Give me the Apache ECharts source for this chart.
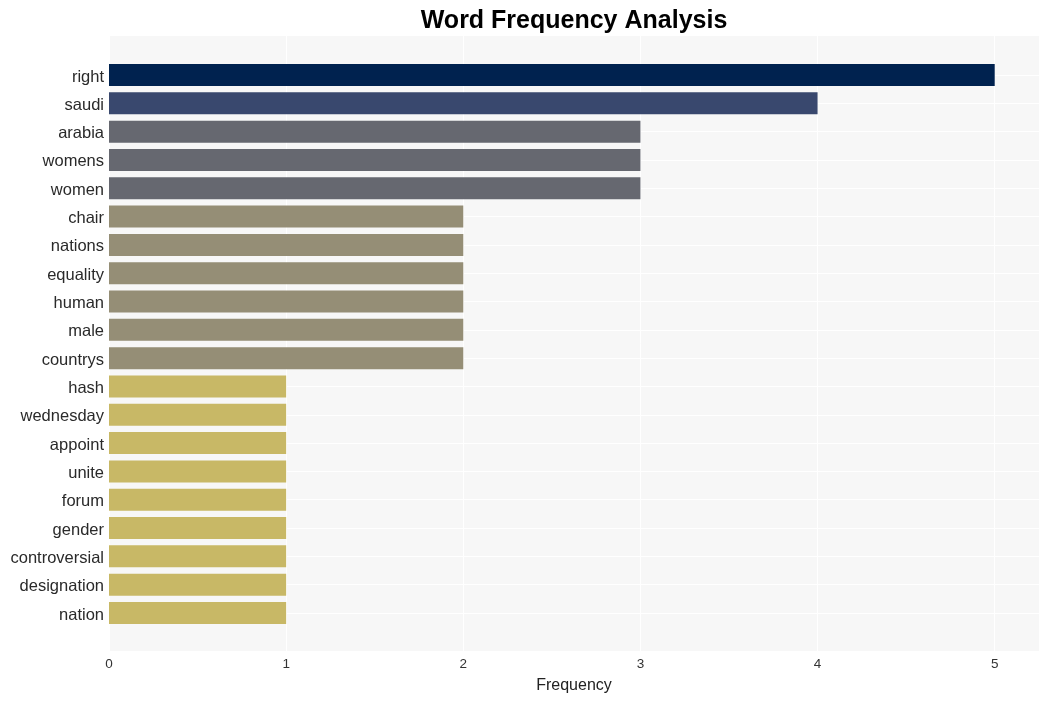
<!DOCTYPE html>
<html><head><meta charset="utf-8">
<script src="https://cdn.jsdelivr.net/npm/echarts@6/dist/echarts.min.js"></script>
<style>html,body{margin:0;padding:0;background:#fff}#c{width:1049px;height:701px}</style>
</head><body><div id="c"></div>
<script>
const words = ["right","saudi","arabia","womens","women","chair","nations","equality","human","male","countrys","hash","wednesday","appoint","unite","forum","gender","controversial","designation","nation"];
const counts = [5,4,3,3,3,2,2,2,2,2,2,1,1,1,1,1,1,1,1,1];
const xTicks = [0,1,2,3,4,5];
const colorByCount = {5:"#00224f",4:"#39486e",3:"#666870",2:"#958e76",1:"#c8b866"};
const FONT = "Liberation Sans, Arial, sans-serif";

const chart = echarts.init(document.getElementById('c'), null, {renderer:'canvas'});
chart.setOption({
  animation:false,
  title:{text:"Word Frequency Analysis",left:569,top:4,textAlign:'center',
    textStyle:{fontFamily:FONT,fontWeight:'bold',fontSize:25,color:'#000'}},
  grid:[
    {left:109,right:10,top:36,bottom:50,show:true,backgroundColor:'#f7f7f7',borderWidth:0},
    {left:109,right:10,top:75,bottom:88,show:false}
  ],
  xAxis:[
    {gridIndex:0,type:'value',min:0,max:5.25,interval:1,
     axisLine:{show:false},axisTick:{show:false},
     axisLabel:{fontFamily:FONT,fontSize:13.5,color:'#333',margin:6,showMaxLabel:false,
       formatter:v=>xTicks.includes(v)?String(v):''},
     splitLine:{show:true,lineStyle:{color:'#ffffff',width:1}},
     name:'Frequency',nameLocation:'middle',nameGap:27,
     nameTextStyle:{fontFamily:FONT,fontSize:16,color:'#222'}},
    {gridIndex:1,type:'value',min:0,max:5.25,show:false,splitLine:{show:false}}
  ],
  yAxis:[
    {gridIndex:0,type:'value',show:false,splitLine:{show:false}},
    {gridIndex:1,type:'category',data:words,inverse:true,boundaryGap:false,
     axisLine:{show:false},axisTick:{show:false},
     axisLabel:{margin:5,formatter:'{a|{value}}',
       rich:{a:{fontFamily:FONT,fontSize:16.5,color:'#2a2a2a',padding:[4,0,0,0]}}},
     splitLine:{show:true,lineStyle:{color:'#ffffff',width:1}}}
  ],
  series:[{
    type:'bar',xAxisIndex:1,yAxisIndex:1,barWidth:22,
    data:counts.map(v=>({value:v,itemStyle:{color:colorByCount[v]}}))
  }]
});
</script></body></html>
